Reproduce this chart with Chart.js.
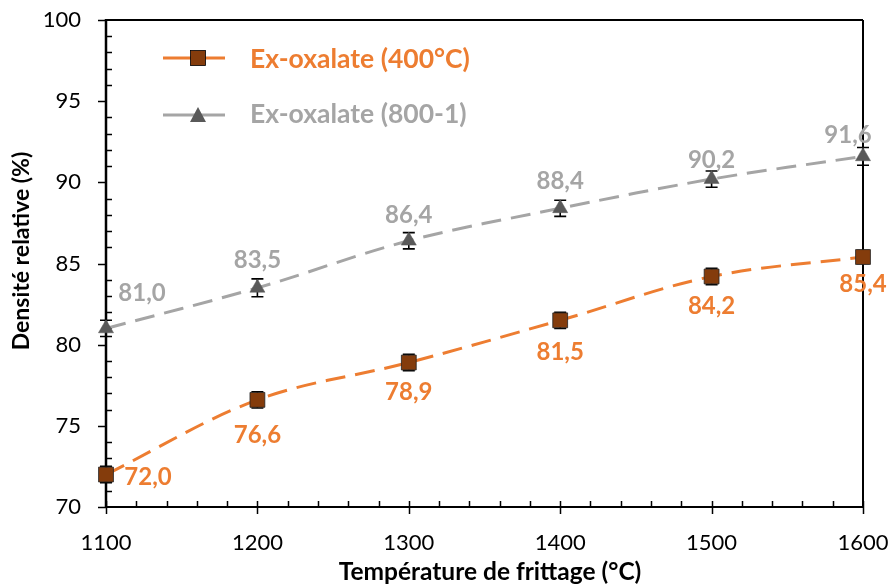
<!DOCTYPE html>
<html>
<head>
<meta charset="utf-8">
<script src="https://cdn.jsdelivr.net/npm/chart.js@4/dist/chart.umd.min.js"></script>
<style>
html,body{margin:0;padding:0;background:#fff;}
#wrap{width:891px;height:585px;position:relative;}
</style>
</head>
<body>
<div id="wrap"><canvas id="c" width="891" height="585"></canvas></div>
<script>
// ---- data ----
const temps = [1100, 1200, 1300, 1400, 1500, 1600];
const dens400 = [72.0, 76.6, 78.9, 81.5, 84.2, 85.4];
const dens800 = [81.0, 83.5, 86.4, 88.4, 90.2, 91.6];
const err400 = [0.5, 0.5, 0.5, 0.5, 0.5, 0.4];
const err800 = [0.5, 0.55, 0.5, 0.5, 0.5, 0.55];
const seriesNames = ['Ex-oxalate (400°C)', 'Ex-oxalate (800-1)'];
const xTitle = 'Température de frittage (°C)';
const yTitle = 'Densité relative (%)';

// ---- styles ----
const FONT = 'Lato, "Open Sans", sans-serif';
const ORANGE = '#ED7D31', BROWN = '#843C0C', GREY = '#A5A5A5', DGREY = '#595959';
// label offsets (dx, dy) per point, styling only
const lblOff400 = [[42, 3], [0, 35], [0, 30], [0, 32], [0, 30], [0, 27]];
const lblOff800 = [[36, -35], [0, -28], [0, -26], [0, -27], [0, -19], [-15, -21]];

const fmt = v => v.toFixed(1).replace('.', ',');

const deco = {
  id: 'deco',
  beforeDatasetsDraw(chart) {
    const ctx = chart.ctx, xs = chart.scales.x, ys = chart.scales.y, a = chart.chartArea;
    ctx.save();
    ctx.strokeStyle = '#000';
    ctx.lineWidth = 2;
    ctx.beginPath();
    ctx.moveTo(a.left, a.top); ctx.lineTo(a.right, a.top);
    ctx.moveTo(a.right, a.top); ctx.lineTo(a.right, a.bottom);
    ctx.moveTo(a.left, a.bottom); ctx.lineTo(a.right, a.bottom);
    ctx.stroke();
    ctx.lineWidth = 2.5;
    ctx.beginPath();
    ctx.moveTo(a.left, a.top - 1); ctx.lineTo(a.left, a.bottom + 1);
    ctx.stroke();
    ctx.lineWidth = 1.5;
    ctx.beginPath();
    for (let v = 70; v <= 100; v++) {
      const y = Math.round(ys.getPixelForValue(v)) + 0.5;
      if (v % 5 === 0) { ctx.moveTo(a.left - 8, y); ctx.lineTo(a.left, y); }
      else { ctx.moveTo(a.left, y); ctx.lineTo(a.left + 6, y); }
    }
    for (let v = 1100; v <= 1600; v += 20) {
      const x = Math.round(xs.getPixelForValue(v)) + 0.5;
      if (v % 100 === 0) { ctx.moveTo(x, a.bottom - 6); ctx.lineTo(x, a.bottom + 7); }
      else { ctx.moveTo(x, a.bottom - 6); ctx.lineTo(x, a.bottom); }
    }
    ctx.stroke();
    // error bars
    ctx.lineWidth = 1.6;
    [[dens400, err400], [dens800, err800]].forEach(([vals, errs]) => {
      vals.forEach((v, i) => {
        const x = xs.getPixelForValue(temps[i]);
        const y1 = ys.getPixelForValue(v + errs[i]), y2 = ys.getPixelForValue(v - errs[i]);
        ctx.beginPath();
        ctx.moveTo(x, y1); ctx.lineTo(x, y2);
        ctx.moveTo(x - 6, y1); ctx.lineTo(x + 6, y1);
        ctx.moveTo(x - 6, y2); ctx.lineTo(x + 6, y2);
        ctx.stroke();
      });
    });
    ctx.restore();
  },
  afterDatasetsDraw(chart) {
    const ctx = chart.ctx, xs = chart.scales.x, ys = chart.scales.y, a = chart.chartArea;
    ctx.save();
    ctx.font = 'bold 24px ' + FONT;
    ctx.textAlign = 'center';
    ctx.textBaseline = 'middle';
    [[dens400, lblOff400, ORANGE], [dens800, lblOff800, GREY]].forEach(([vals, offs, col]) => {
      ctx.fillStyle = col;
      vals.forEach((v, i) => {
        const x = xs.getPixelForValue(temps[i]), y = ys.getPixelForValue(v);
        ctx.fillText(fmt(v), x + offs[i][0], y + offs[i][1]);
      });
    });
    // legend
    ctx.font = 'bold 26.5px ' + FONT;
    const legend = [
      { y: 58, ty: 58, line: ORANGE, fill: BROWN, style: 'rect', text: seriesNames[0], col: ORANGE },
      { y: 115, ty: 113, line: GREY, fill: DGREY, style: 'triangle', text: seriesNames[1], col: GREY }
    ];
    legend.forEach(L => {
      ctx.strokeStyle = L.line; ctx.lineWidth = 3;
      ctx.beginPath(); ctx.moveTo(163, L.y); ctx.lineTo(225, L.y); ctx.stroke();
      ctx.fillStyle = L.fill;
      if (L.style === 'rect') {
        ctx.fillRect(190.5, L.y - 7.5, 15, 15);
        ctx.strokeStyle = '#000'; ctx.lineWidth = 0.8; ctx.strokeRect(190.5, L.y - 7.5, 15, 15);
      } else {
        ctx.beginPath(); ctx.moveTo(198, L.y - 8); ctx.lineTo(206, L.y + 7); ctx.lineTo(190, L.y + 7); ctx.closePath(); ctx.fill();
      }
      ctx.fillStyle = L.col; ctx.textAlign = 'left';
      ctx.fillText(L.text, 250, L.ty + 1);
    });
    // axis titles
    ctx.fillStyle = '#000';
    ctx.font = 'bold 24.5px ' + FONT;
    ctx.textAlign = 'center';
    ctx.fillText(xTitle, 490, 572);
    ctx.font = 'bold 23px ' + FONT;
    ctx.translate(22, 251);
    ctx.rotate(-Math.PI / 2);
    ctx.fillText(yTitle, 0, 0);
    ctx.restore();
  }
};

new Chart(document.getElementById('c'), {
  type: 'line',
  data: {
    datasets: [
      {
        label: seriesNames[0],
        data: temps.map((t, i) => ({ x: t, y: dens400[i] })),
        borderColor: ORANGE, borderWidth: 3, borderDash: [20, 10],
        pointStyle: 'rect', pointRadius: 10.5, pointBackgroundColor: BROWN,
        pointBorderColor: '#222', pointBorderWidth: 0.8,
        tension: 0.35, fill: false, clip: false
      },
      {
        label: seriesNames[1],
        data: temps.map((t, i) => ({ x: t, y: dens800[i] })),
        borderColor: GREY, borderWidth: 3, borderDash: [20, 10],
        pointStyle: 'triangle', pointRadius: 8.7, pointBackgroundColor: DGREY,
        pointBorderColor: DGREY, pointBorderWidth: 0.5,
        tension: 0.35, fill: false, clip: false
      }
    ]
  },
  options: {
    responsive: false, animation: false, devicePixelRatio: 1,
    layout: { padding: { left: 0, right: 28, top: 20, bottom: 0 } },
    plugins: { legend: { display: false }, tooltip: { enabled: false } },
    scales: {
      x: {
        type: 'linear', min: 1100, max: 1600,
        afterFit(s) { s.height = 78; s.paddingLeft = 0; s.paddingRight = 0; s.paddingTop = 0; s.paddingBottom = 0; },
        afterBuildTicks(s) { s.ticks = temps.map(v => ({ value: v })); },
        grid: { display: false, drawTicks: false }, border: { display: false },
        ticks: { padding: 23, color: '#000', font: { family: FONT, size: 22 }, callback: v => String(v) }
      },
      y: {
        min: 70, max: 100,
        afterFit(s) { s.width = 106; s.paddingLeft = 0; s.paddingRight = 0; s.paddingTop = 0; s.paddingBottom = 0; },
        ticks: { stepSize: 5, padding: 25, color: '#000', font: { family: FONT, size: 22 }, callback: v => String(v) },
        grid: { display: false, drawTicks: false }, border: { display: false }
      }
    }
  },
  plugins: [deco]
});
</script>
</body>
</html>
